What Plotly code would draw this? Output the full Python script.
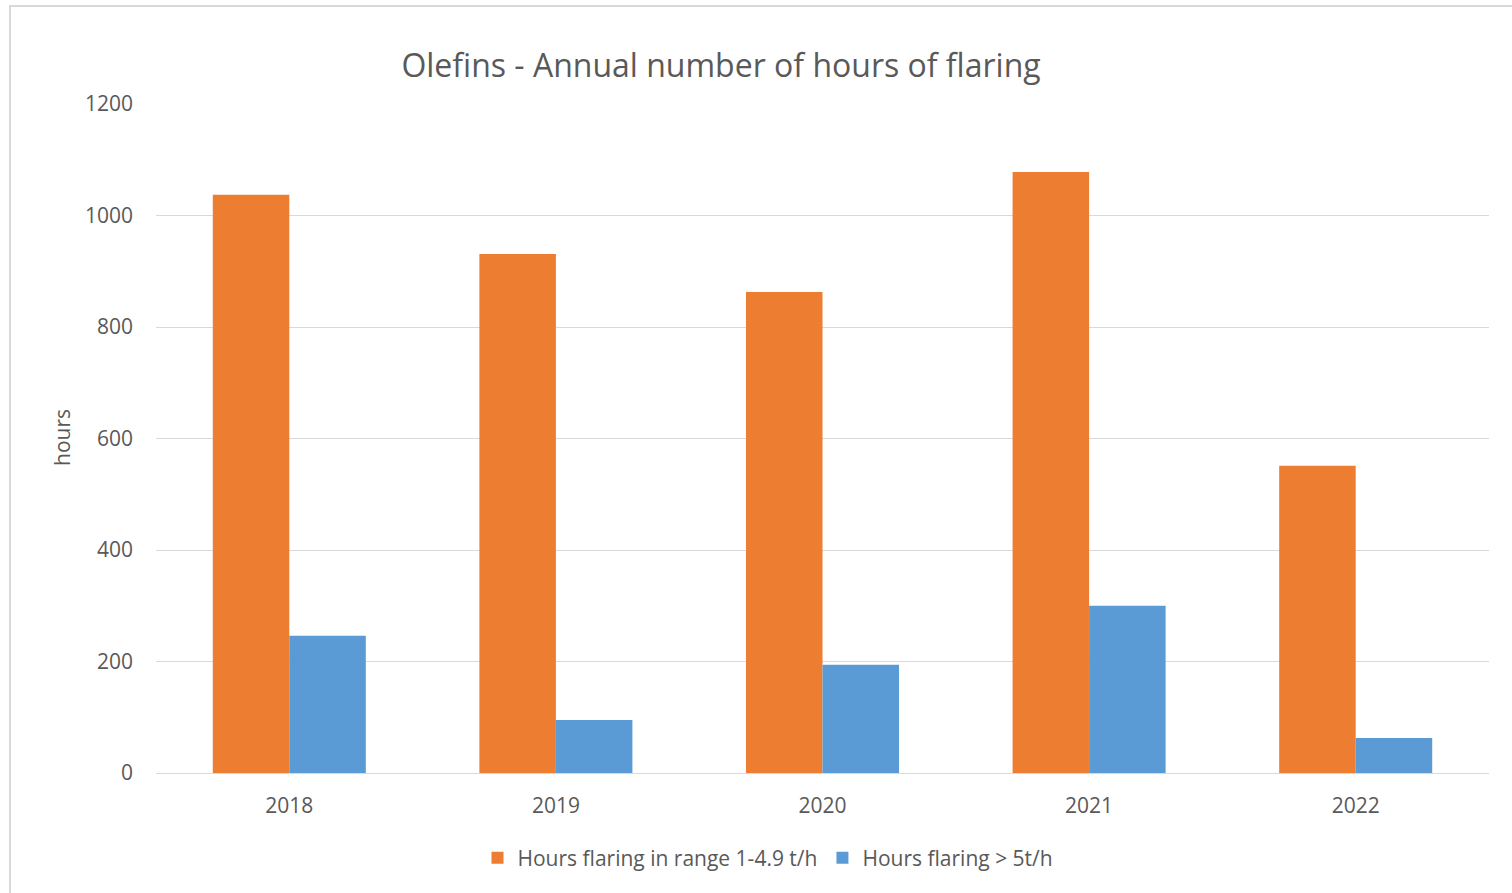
import plotly.graph_objects as go

years = ["2018", "2019", "2020", "2021", "2022"]
range_1_49 = [1037, 931, 863, 1078, 551]
above_5 = [246, 95, 194, 300, 63]

W, H = 1512, 893
L, R, T, B = 156, 23, 104, 120
pw, ph = W - L - R, H - T - B

def px_x(p):
    return (p - L) / pw

def px_y(p):
    return (H - B - p) / ph

FONT = "Open Sans"
GREY = "#595959"

fig = go.Figure()
fig.add_trace(go.Bar(x=years, y=range_1_49, name="Hours flaring in range 1-4.9 t/h",
                     marker=dict(color="#ED7D31", line=dict(width=0))))
fig.add_trace(go.Bar(x=years, y=above_5, name="Hours flaring > 5t/h",
                     marker=dict(color="#5B9BD5", line=dict(width=0))))

fig.update_layout(
    width=W, height=H,
    margin=dict(l=L, r=R, t=T, b=B),
    paper_bgcolor="white", plot_bgcolor="white",
    barmode="group", bargap=0.426, bargroupgap=0,
    font=dict(family=FONT, color=GREY, size=21),
    title=dict(text="Olefins - Annual number of hours of flaring",
               x=721 / W, xref="container", xanchor="center",
               y=1 - 66 / H, yref="container", yanchor="middle",
               font=dict(family=FONT, size=32, color=GREY)),
    showlegend=True,
    legend=dict(orientation="h", x=px_x(768), xanchor="center",
                y=px_y(858), yanchor="middle",
                font=dict(family=FONT, size=21, color=GREY),
                itemsizing="constant", itemwidth=30, traceorder="normal"),
    xaxis=dict(showgrid=False, showline=True, linecolor="#d9d9d9", linewidth=1,
               ticks="", tickfont=dict(size=21, color=GREY), ticklabelstandoff=14),
    yaxis=dict(range=[0, 1200], tickvals=[0, 200, 400, 600, 800, 1000, 1200],
               showgrid=True, gridcolor="#d9d9d9", gridwidth=1, zeroline=False,
               showline=False, ticks="", tickfont=dict(size=21, color=GREY),
               ticklabelstandoff=22),
    shapes=[dict(type="rect", xref="paper", yref="paper",
                 x0=px_x(10), x1=px_x(1530), y0=px_y(910), y1=px_y(6),
                 line=dict(color="#d9d9d9", width=2), fillcolor="rgba(0,0,0,0)",
                 layer="below")],
    annotations=[dict(text="hours", xref="paper", yref="paper",
                      x=px_x(62), y=px_y(438), xanchor="center", yanchor="middle",
                      textangle=-90, showarrow=False,
                      font=dict(family=FONT, size=21, color=GREY))],
)

fig.write_html("out.html")
